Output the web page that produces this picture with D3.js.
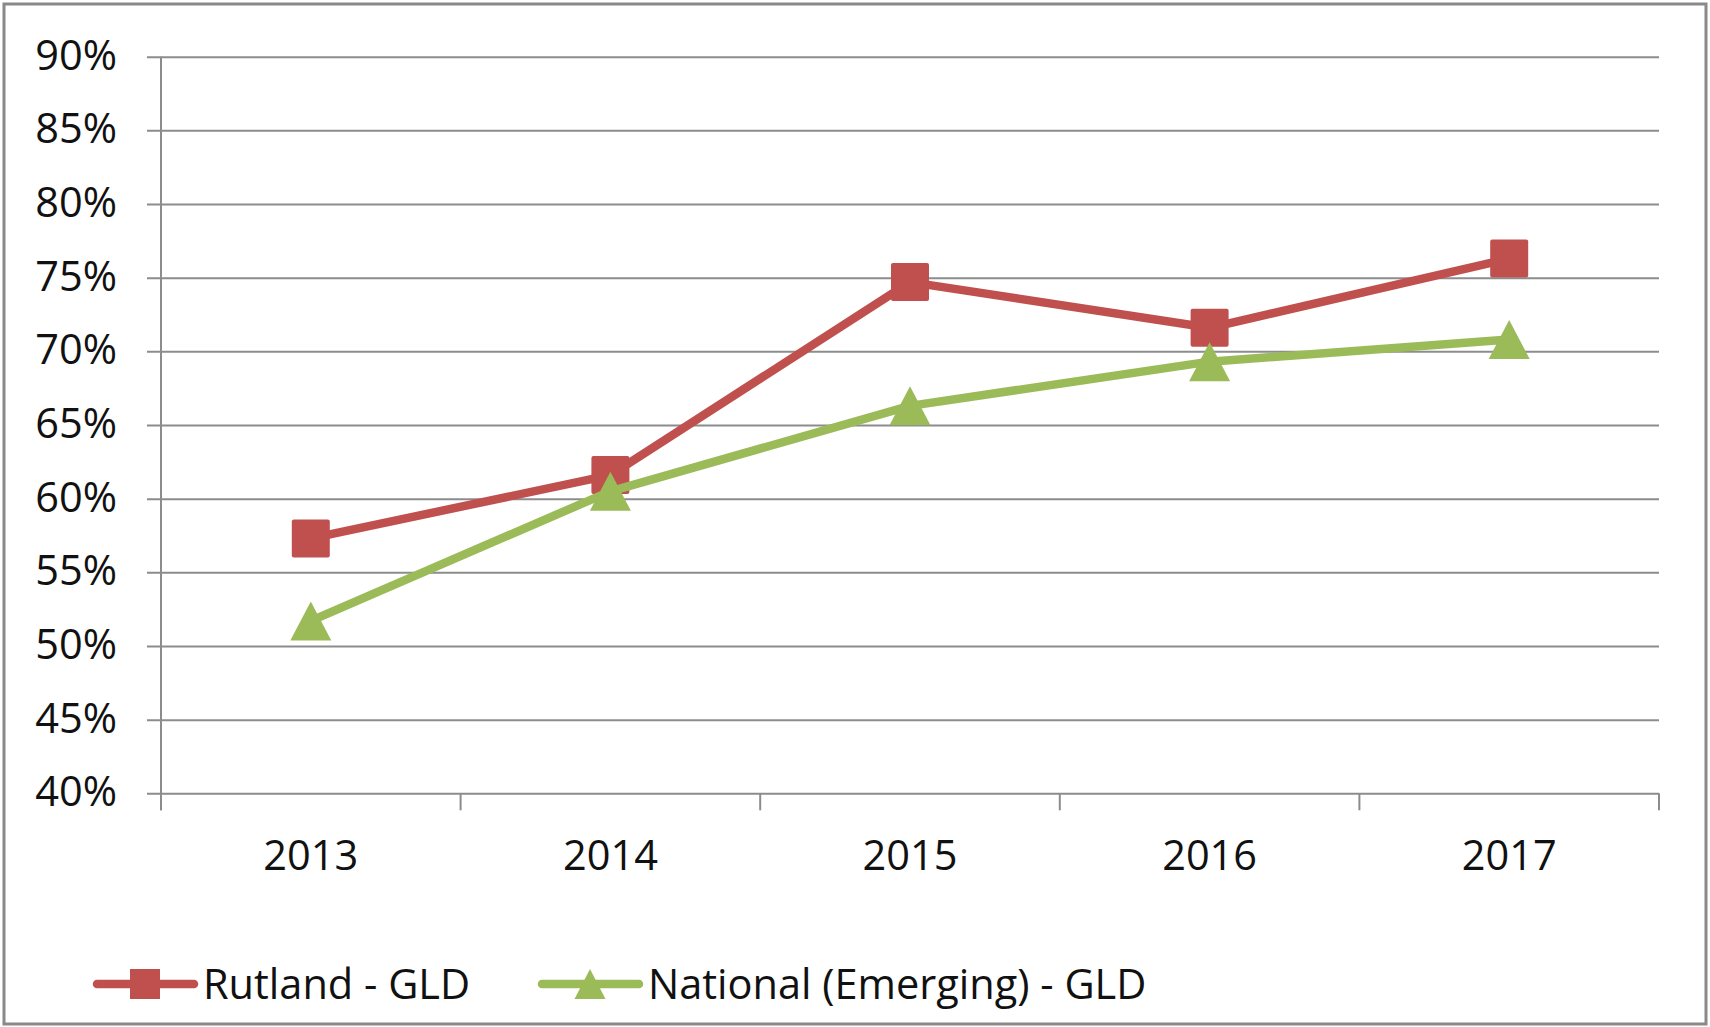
<!DOCTYPE html>
<html>
<head>
<meta charset="utf-8">
<script src="https://cdn.jsdelivr.net/npm/d3@7"></script>
<style>
  body { margin: 0; background: #fff; }
  svg { display: block; font-family: 'Open Sans', sans-serif; }
</style>
</head>
<body>
<div class="chart-container"></div>
<script>
const years = ['2013', '2014', '2015', '2016', '2017']
const rutland = [57.3, 61.6, 74.7, 71.6, 76.3]
const national = [51.7, 60.5, 66.3, 69.3, 70.8]
const yTicks = [40, 45, 50, 55, 60, 65, 70, 75, 80, 85, 90]

const width = 1710
const height = 1027
const plot = { left: 161, right: 1659, top: 56.7, bottom: 793.3 }

const RED = '#c0504d'
const GREEN = '#9bbb59'
const GRID = '#8c8c8c'
const FONT_SIZE = 41.5

const svg = d3
    .select('.chart-container')
    .append('svg')
    .attr('width', width)
    .attr('height', height)

// outer frame
svg.append('rect')
    .attr('x', 4)
    .attr('y', 4)
    .attr('width', width - 8)
    .attr('height', height - 7)
    .attr('fill', '#fff')
    .attr('stroke', '#898989')
    .attr('stroke-width', 3)

const x = d3.scaleBand().domain(years).range([plot.left, plot.right]).padding(0)
const y = d3.scaleLinear().domain([40, 90]).range([plot.bottom, plot.top])

// gridlines + y labels
const gridX0 = plot.left - 14
const yAxis = svg.append('g')
    .attr('transform', `translate(${gridX0},0)`)
    .call(
        d3.axisLeft(y)
            .tickValues(yTicks)
            .tickSize(-(plot.right - gridX0))
            .tickPadding(30)
            .tickFormat(d => d + '%')
    )
yAxis.select('.domain').remove()
yAxis.selectAll('line').attr('stroke', GRID).attr('stroke-width', 2)
yAxis.selectAll('text')
    .attr('fill', '#111')
    .attr('font-size', FONT_SIZE)
    .attr('font-family', "'Open Sans', sans-serif")
    .attr('dy', '0.3em')

// vertical axis line
svg.append('line')
    .attr('x1', plot.left).attr('x2', plot.left)
    .attr('y1', plot.top).attr('y2', plot.bottom + 17)
    .attr('stroke', GRID).attr('stroke-width', 2)

// category boundary ticks
const bounds = years.map(d => x(d)).concat([x(years[years.length - 1]) + x.step()])
svg.append('g')
    .selectAll('line')
    .data(bounds)
    .enter()
    .append('line')
    .attr('x1', d => d).attr('x2', d => d)
    .attr('y1', plot.bottom).attr('y2', plot.bottom + 17)
    .attr('stroke', GRID).attr('stroke-width', 2)

// x labels
const xAxis = svg.append('g')
    .attr('transform', `translate(0,${plot.bottom})`)
    .call(d3.axisBottom(x).tickSize(0).tickPadding(47))
xAxis.select('.domain').remove()
xAxis.selectAll('text')
    .attr('fill', '#111')
    .attr('font-size', FONT_SIZE)
    .attr('font-family', "'Open Sans', sans-serif")

const cx = d => x(d) + x.bandwidth() / 2
const SQ = 38
const triPath = (w, h) => `M0,${-h / 2}L${w / 2},${h / 2}L${-w / 2},${h / 2}Z`

const series = [
    { name: 'Rutland - GLD', values: rutland, color: RED, marker: 'square' },
    { name: 'National (Emerging) - GLD', values: national, color: GREEN, marker: 'triangle' }
]

const line = d3.line()
    .x(d => cx(d.year))
    .y(d => y(d.value))

series.forEach(s => {
    const pts = years.map((yr, i) => ({ year: yr, value: s.values[i] }))
    const g = svg.append('g')
    g.append('path')
        .datum(pts)
        .attr('d', line)
        .attr('fill', 'none')
        .attr('stroke', s.color)
        .attr('stroke-width', 8.5)
        .attr('stroke-linejoin', 'round')
        .attr('stroke-linecap', 'round')
    if (s.marker === 'square') {
        g.selectAll('rect')
            .data(pts)
            .enter()
            .append('rect')
            .attr('x', d => cx(d.year) - SQ / 2)
            .attr('y', d => y(d.value) - SQ / 2)
            .attr('width', SQ)
            .attr('height', SQ)
            .attr('rx', 2)
            .attr('fill', s.color)
    } else {
        g.selectAll('path.tri')
            .data(pts)
            .enter()
            .append('path')
            .attr('class', 'tri')
            .attr('d', triPath(41, 39))
            .attr('transform', d => `translate(${cx(d.year)},${y(d.value)})`)
            .attr('fill', s.color)
    }
})

// legend
const legendY = 984
const legendX = [97, 542]
const legend = svg.append('g')
    .selectAll('g')
    .data(series)
    .enter()
    .append('g')
    .attr('transform', (d, i) => `translate(${legendX[i]},${legendY})`)

legend.append('line')
    .attr('x1', 0).attr('x2', 97)
    .attr('stroke', d => d.color)
    .attr('stroke-width', 8.5)
    .attr('stroke-linecap', 'round')

legend.append('path')
    .attr('d', d => d.marker === 'square'
        ? 'M-15,-15h30v30h-30Z'
        : triPath(31, 30))
    .attr('transform', 'translate(48,0)')
    .attr('fill', d => d.color)

legend.append('text')
    .attr('x', 106)
    .attr('dy', '0.35em')
    .attr('font-size', FONT_SIZE)
    .attr('fill', '#111')
    .text(d => d.name)
</script>
</body>
</html>
